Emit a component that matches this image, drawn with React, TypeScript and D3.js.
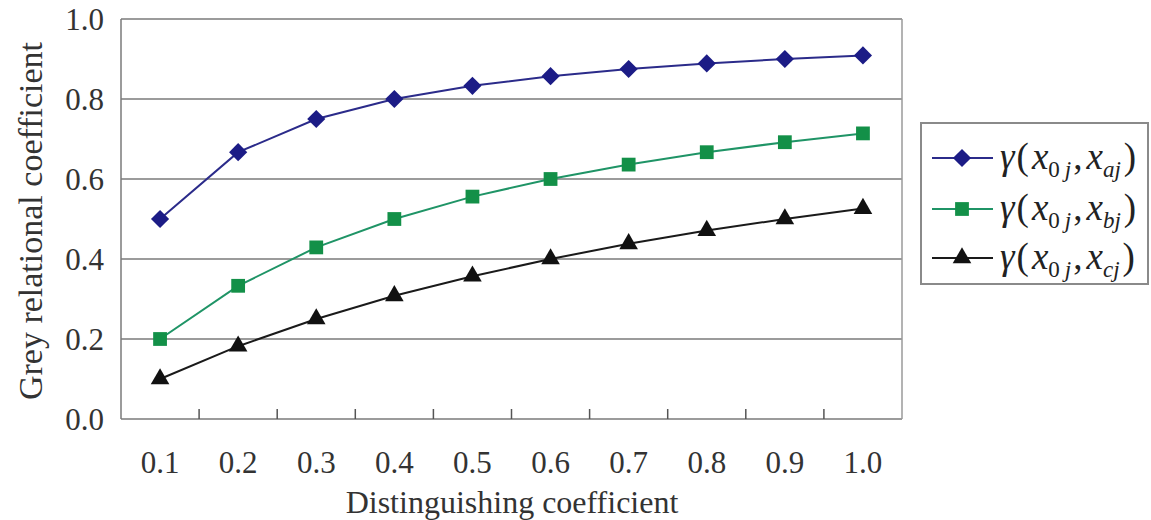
import React from "react";
import { scaleBand, scaleLinear, line, symbol, symbolSquare, symbolTriangle } from "d3";

// distinguishing coefficient values on the x axis
const categories = ["0.1", "0.2", "0.3", "0.4", "0.5", "0.6", "0.7", "0.8", "0.9", "1.0"];
const seriesA = [0.5, 0.667, 0.75, 0.8, 0.833, 0.857, 0.875, 0.889, 0.9, 0.909];
const seriesB = [0.2, 0.333, 0.429, 0.5, 0.556, 0.6, 0.636, 0.667, 0.692, 0.714];
const seriesC = [0.1, 0.182, 0.25, 0.308, 0.357, 0.4, 0.438, 0.471, 0.5, 0.526];
const yTicks = [0, 0.2, 0.4, 0.6, 0.8, 1.0];
const seriesSubs = ["aj", "bj", "cj"];

const FONT = "'Liberation Serif', 'DejaVu Serif', serif";

export default function App() {
  const width = 1151;
  const height = 520;
  const plot = { left: 121, right: 902, top: 19, bottom: 419 };

  const x = scaleBand().domain(categories).range([plot.left, plot.right]);
  const y = scaleLinear().domain([0, 1]).range([plot.bottom, plot.top]);
  const cx = (c: string) => (x(c) as number) + x.bandwidth() / 2;

  // diamond = square turned by 45 degrees
  const series = [
    { values: seriesA, stroke: "#2b2b8a", fill: "#1c1c86", shape: symbolSquare, size: 165, rot: 45 },
    { values: seriesB, stroke: "#1f9466", fill: "#139048", shape: symbolSquare, size: 190, rot: 0 },
    { values: seriesC, stroke: "#1a1a1a", fill: "#111111", shape: symbolTriangle, size: 150, rot: 0 },
  ];

  const lineGen = line<number>()
    .x((_, i) => cx(categories[i]))
    .y((d) => y(d));

  const legendY = [158, 209, 258];

  return (
    <div style={{ position: "absolute", left: 0, top: 0 }}>
      <svg width={width} height={height} style={{ display: "block", background: "#fff" }} fontFamily={FONT}>
        {/* grid lines */}
        {yTicks.map((t) => (
          <line key={t} x1={plot.left} x2={plot.right} y1={y(t)} y2={y(t)} stroke="#7a7a7a" strokeWidth={1.5} />
        ))}
        {/* plot frame */}
        <line x1={plot.left} x2={plot.left} y1={plot.top} y2={plot.bottom} stroke="#7a7a7a" strokeWidth={1.5} />
        <line x1={plot.right} x2={plot.right} y1={plot.top} y2={plot.bottom} stroke="#9a9a9a" strokeWidth={1.5} />

        {/* x ticks between categories */}
        {categories.slice(1).map((c) => (
          <line key={c} x1={x(c)} x2={x(c)} y1={plot.bottom} y2={plot.bottom - 10} stroke="#555" strokeWidth={1.5} />
        ))}

        {/* y tick labels */}
        {yTicks.map((t) => (
          <text key={t} x={104} y={y(t)} dy="0.35em" textAnchor="end" fontSize={31} fill="#333">
            {t.toFixed(1)}
          </text>
        ))}
        {/* x tick labels */}
        {categories.map((c) => (
          <text key={c} x={cx(c)} y={462} dy="0.35em" textAnchor="middle" fontSize={31} fill="#333">
            {c}
          </text>
        ))}

        <text x={512} y={502} dy="0.35em" textAnchor="middle" fontSize={32} fill="#333">
          Distinguishing coefficient
        </text>
        <text transform={`translate(30,${(plot.top + plot.bottom) / 2 + 2}) rotate(-90)`} dy="0.35em" textAnchor="middle" fontSize={34} fill="#333">
          Grey relational coefficient
        </text>

        {/* series */}
        {series.map((s, k) => (
          <g key={k}>
            <path d={lineGen(s.values) as string} fill="none" stroke={s.stroke} strokeWidth={2} />
            {s.values.map((v, i) => (
              <path
                key={i}
                transform={`translate(${cx(categories[i])},${y(v)}) rotate(${s.rot})`}
                d={symbol().type(s.shape).size(s.size)() as string}
                fill={s.fill}
              />
            ))}
          </g>
        ))}

        {/* legend */}
        <rect x={921} y={123} width={227} height={161} fill="#fff" stroke="#8a8a8a" strokeWidth={2} />
        {series.map((s, k) => (
          <g key={k} transform={`translate(0,${legendY[k]})`}>
            <line x1={932} x2={993} y1={0} y2={0} stroke={s.stroke} strokeWidth={2} />
            <path transform={`translate(962,0) rotate(${s.rot})`} d={symbol().type(s.shape).size(s.size)() as string} fill={s.fill} />
            <text x={1000} y={0} dy="0.3em" fontSize={37} fill="#222">
              <tspan fontStyle="italic">γ</tspan>
              <tspan dx={2}>(</tspan>
              <tspan fontStyle="italic" dx={3}>x</tspan>
              <tspan fontSize={23} dy={8}>0</tspan>
              <tspan fontSize={23} fontStyle="italic" dx={5}>j</tspan>
              <tspan dy={-8} dx={2}>,</tspan>
              <tspan fontStyle="italic" dx={4}>x</tspan>
              <tspan fontSize={23} fontStyle="italic" dy={8}>{seriesSubs[k]}</tspan>
              <tspan dy={-8} dx={3}>)</tspan>
            </text>
          </g>
        ))}
      </svg>
    </div>
  );
}
